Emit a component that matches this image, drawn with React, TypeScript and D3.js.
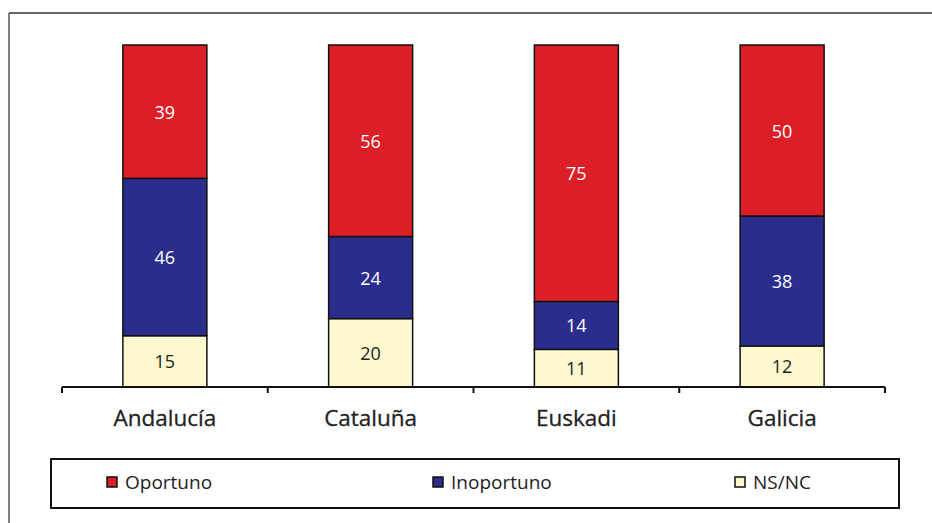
import React from "react";
import * as d3 from "d3";

const categories = ["Andalucía", "Cataluña", "Euskadi", "Galicia"];
const seriesNames = ["NS/NC", "Inoportuno", "Oportuno"];
const nsnc = [15, 20, 11, 12];
const inoportuno = [46, 24, 14, 38];
const oportuno = [39, 56, 75, 50];
const legendOrder = ["Oportuno", "Inoportuno", "NS/NC"];

const colors: Record<string, string> = {
  Oportuno: "#DC1E26",
  Inoportuno: "#2A2D8C",
  "NS/NC": "#FEF8CF",
};
const labelColors: Record<string, string> = {
  Oportuno: "#ffffff",
  Inoportuno: "#ffffff",
  "NS/NC": "#222222",
};

export default function App() {
  const W = 932, H = 523;
  const axisY = 387, topY = 45;
  const x0 = 62, x1 = 885;
  const font = "'Open Sans', 'DejaVu Sans', sans-serif";

  const rows = categories.map((c, i) => ({
    cat: c,
    "NS/NC": nsnc[i],
    Inoportuno: inoportuno[i],
    Oportuno: oportuno[i],
  }));
  const stack = d3.stack<any>().keys(seriesNames)(rows);

  const x = d3.scaleBand().domain(categories).range([x0, x1]).paddingInner(0).paddingOuter(0);
  const y = d3.scaleLinear().domain([0, 100]).range([axisY, topY]);
  const bw = 84;

  const ticks = [...categories.map((c) => x(c)!), x1];

  const legendX = [107, 433, 735];

  return (
    <svg width={W} height={H} style={{ position: "absolute", left: 0, top: 0 }}>
      <rect x={0} y={0} width={W} height={H} fill="#fff" />
      <line x1={9} y1={13} x2={W} y2={13} stroke="#666" strokeWidth={2} />
      <line x1={9} y1={13} x2={9} y2={H} stroke="#555" strokeWidth={1.5} />

      {stack.map((s) =>
        s.map((d, i) => {
          const cx = x(categories[i])! + x.bandwidth() / 2;
          const yT = y(d[1]);
          const yB = y(d[0]);
          return (
            <g key={s.key + i}>
              <rect
                x={cx - bw / 2}
                y={yT}
                width={bw}
                height={yB - yT}
                fill={colors[s.key]}
                stroke="#111"
                strokeWidth={1.5}
              />
              <text
                x={cx}
                y={(yT + yB) / 2}
                textAnchor="middle"
                dominantBaseline="central"
                fontFamily={font}
                fontSize={18}
                fill={labelColors[s.key]}
              >
                {d[1] - d[0]}
              </text>
            </g>
          );
        })
      )}

      <line x1={x0} y1={axisY} x2={x1} y2={axisY} stroke="#111" strokeWidth={2} />
      {ticks.map((t, i) => (
        <line key={i} x1={t} y1={axisY} x2={t} y2={axisY + 6} stroke="#111" strokeWidth={2} />
      ))}
      {categories.map((c) => (
        <text
          key={c}
          x={x(c)! + x.bandwidth() / 2}
          y={417}
          textAnchor="middle"
          dominantBaseline="central"
          fontFamily={font}
          fontSize={22.5}
          fill="#222"
          stroke="#222"
          strokeWidth={0.3}
        >
          {c}
        </text>
      ))}

      <rect x={51} y={459} width={848} height={49} fill="#fff" stroke="#111" strokeWidth={2} />
      {legendOrder.map((k, i) => (
        <g key={k}>
          <rect x={legendX[i]} y={477} width={10} height={10} fill={colors[k]} stroke="#111" strokeWidth={1.5} />
          <text
            x={legendX[i] + 18}
            y={482}
            dominantBaseline="central"
            fontFamily={font}
            fontSize={19}
            fill="#222"
          >
            {k}
          </text>
        </g>
      ))}
    </svg>
  );
}
